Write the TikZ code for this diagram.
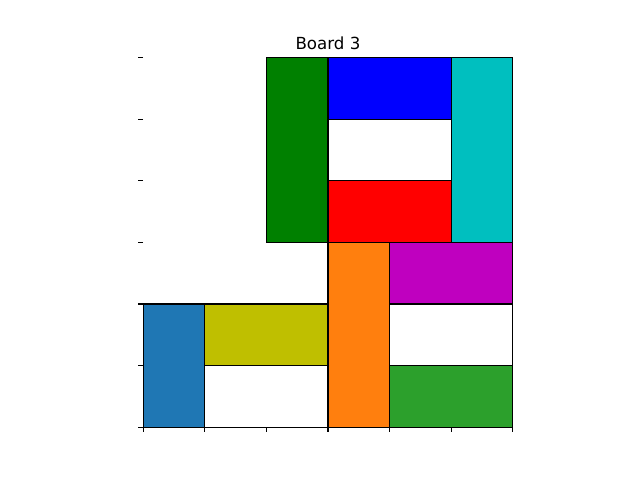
\documentclass[tikz,border=0pt]{standalone}
\usepackage{fontspec}
\setmainfont{DejaVu Sans}
\usepackage{tikz}

\definecolor{mplblue}{HTML}{1F77B4}
\definecolor{mplorange}{HTML}{FF7F0E}
\definecolor{mplgreen}{HTML}{2CA02C}
\definecolor{darkgreen}{rgb}{0,0.5,0}
\definecolor{mplcyan}{rgb}{0,0.75,0.75}
\definecolor{mplmagenta}{rgb}{0.75,0,0.75}
\definecolor{mplyellow}{rgb}{0.75,0.75,0}

\begin{document}
\begin{tikzpicture}[x=46.2pt, y=46.2pt, font=\fontsize{12.5}{15}\selectfont]
        \tikzset{
            piece/.style={draw=black, line width=1.04pt},
            tick/.style={line width=0.83pt}
        }
        \useasboundingbox (-2.3247,-0.857) rectangle (8.065,6.935);

        % pieces: x0/y0/x1/y1/colour
        \foreach \xa/\ya/\xb/\yb/\col in {
            2/3/3/6/darkgreen, 3/5/5/6/blue, 5/3/6/6/mplcyan, 3/4/5/5/white,
            3/3/5/4/red, 3/0/4/3/mplorange, 4/2/6/3/mplmagenta, 4/1/6/2/white,
            4/0/6/1/mplgreen, 0/0/1/2/mplblue, 1/1/3/2/mplyellow, 1/0/3/1/white}
            \filldraw[piece, fill=\col] (\xa,\ya) rectangle (\xb,\yb);

        % axis ticks
        \foreach \k in {0,...,6} {
            \draw[tick] (\k,0) -- (\k,-0.079);
            \draw[tick] (0,\k) -- (-0.079,\k);
        }

        \node[anchor=base, inner sep=0pt] (title) at (3,6.135) {Board 3};
    \end{tikzpicture}
\end{document}
